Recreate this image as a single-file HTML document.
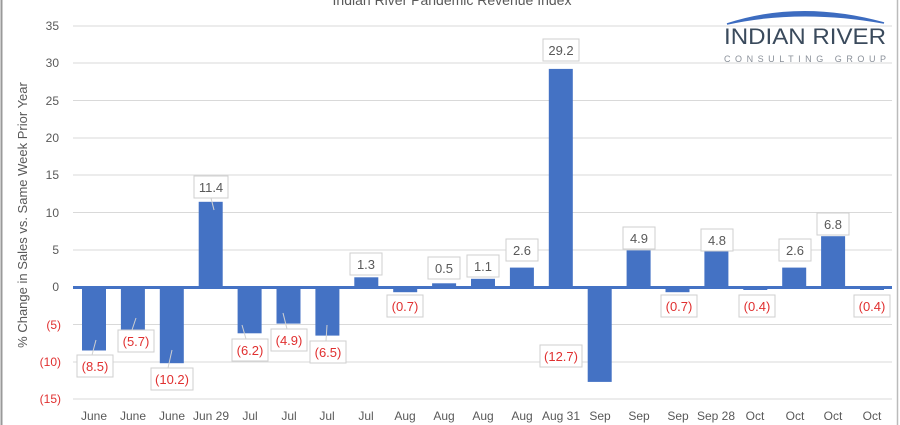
<!DOCTYPE html>
<html><head><meta charset="utf-8"><style>
html,body{margin:0;padding:0;background:#fff;}
svg{display:block;font-family:"Liberation Sans",sans-serif;}
</style></head><body>
<svg width="900" height="425" viewBox="0 0 900 425" xmlns="http://www.w3.org/2000/svg">
<rect x="0" y="0" width="900" height="425" fill="#fff"/>
<line x1="1.5" y1="0" x2="1.5" y2="425" stroke="#999" stroke-width="2"/>
<line x1="897.5" y1="0" x2="897.5" y2="425" stroke="#bbb" stroke-width="1.5"/>
<text x="452" y="5" font-size="14" fill="#595959" text-anchor="middle">Indian River Pandemic Revenue Index</text>
<g stroke="#d9d9d9" stroke-width="1">
<line x1="73" y1="26" x2="892" y2="26"/><line x1="73" y1="63" x2="892" y2="63"/>
<line x1="73" y1="100.5" x2="892" y2="100.5"/><line x1="73" y1="138" x2="892" y2="138"/>
<line x1="73" y1="175" x2="892" y2="175"/><line x1="73" y1="212.5" x2="892" y2="212.5"/>
<line x1="73" y1="250" x2="892" y2="250"/><line x1="73" y1="324.5" x2="892" y2="324.5"/>
<line x1="73" y1="362" x2="892" y2="362"/><line x1="73" y1="399" x2="892" y2="399"/>
</g>
<g font-size="12" text-anchor="end" fill="#595959">
<text x="59" y="30">35</text><text x="59" y="67">30</text><text x="59" y="105">25</text>
<text x="59" y="142">20</text><text x="59" y="179">15</text><text x="59" y="217">10</text>
<text x="59" y="254">5</text><text x="59" y="291">0</text>
</g>
<g font-size="12" text-anchor="end" fill="#e03030">
<text x="61" y="329">(5)</text><text x="61" y="366">(10)</text><text x="61" y="403">(15)</text>
</g>
<text transform="translate(27,215) rotate(-90)" font-size="13" fill="#595959" text-anchor="middle">% Change in Sales vs. Same Week Prior Year</text>
<g fill="#4472c4">
<rect x="82" y="287" width="24" height="63.5"/>
<rect x="120.9" y="287" width="24" height="42.6"/>
<rect x="159.8" y="287" width="24" height="76.2"/>
<rect x="198.7" y="201.8" width="24" height="85.2"/>
<rect x="237.6" y="287" width="24" height="46.3"/>
<rect x="276.5" y="287" width="24" height="36.6"/>
<rect x="315.4" y="287" width="24" height="48.6"/>
<rect x="354.3" y="277.3" width="24" height="9.7"/>
<rect x="393.2" y="287" width="24" height="5.2"/>
<rect x="432.1" y="283.3" width="24" height="3.7"/>
<rect x="471" y="278.8" width="24" height="8.2"/>
<rect x="509.9" y="267.6" width="24" height="19.4"/>
<rect x="548.8" y="68.9" width="24" height="218.1"/>
<rect x="587.7" y="287" width="24" height="94.9"/>
<rect x="626.6" y="250.4" width="24" height="36.6"/>
<rect x="665.5" y="287" width="24" height="5.2"/>
<rect x="704.4" y="251.1" width="24" height="35.9"/>
<rect x="743.3" y="287" width="24" height="3"/>
<rect x="782.2" y="267.6" width="24" height="19.4"/>
<rect x="821.1" y="236.2" width="24" height="50.8"/>
<rect x="860" y="287" width="24" height="3"/>
</g>
<line x1="73" y1="287.5" x2="892" y2="287.5" stroke="#4472c4" stroke-width="3"/>
<g stroke="#d0d0d0" stroke-width="1">
<line x1="92" y1="355" x2="96" y2="340"/><line x1="132" y1="330" x2="136" y2="318"/>
<line x1="168" y1="368" x2="172" y2="350"/><line x1="211" y1="198" x2="214" y2="210"/>
<line x1="246" y1="339" x2="242" y2="325"/><line x1="287" y1="329" x2="283" y2="313"/>
<line x1="326" y1="341" x2="327" y2="325"/>
</g>
<g fill="#fff" stroke="#cfcfcf" stroke-width="1">
<rect x="77" y="355" width="36" height="22"/><rect x="118" y="330" width="36" height="22"/>
<rect x="151" y="368" width="42" height="22"/><rect x="194" y="176" width="34" height="22"/>
<rect x="232" y="339" width="36" height="22"/><rect x="271" y="329" width="36" height="22"/>
<rect x="310" y="341" width="36" height="22"/><rect x="350" y="253" width="32" height="22"/>
<rect x="387" y="295" width="36" height="22"/><rect x="428" y="257" width="32" height="22"/>
<rect x="467" y="255" width="32" height="22"/><rect x="506" y="239" width="32" height="22"/>
<rect x="543" y="39" width="36" height="22"/><rect x="540" y="345" width="42" height="22"/>
<rect x="623" y="227" width="32" height="22"/><rect x="661" y="295" width="36" height="22"/>
<rect x="701" y="229" width="32" height="22"/><rect x="739" y="295" width="36" height="22"/>
<rect x="779" y="239" width="32" height="22"/><rect x="817" y="213" width="32" height="22"/>
<rect x="854" y="295" width="36" height="22"/>
</g>
<g font-size="13" text-anchor="middle" fill="#e03030">
<text x="95" y="371">(8.5)</text><text x="136" y="346">(5.7)</text><text x="172" y="384">(10.2)</text>
<text x="250" y="355">(6.2)</text><text x="289" y="345">(4.9)</text><text x="328" y="357">(6.5)</text>
<text x="405" y="311">(0.7)</text><text x="561" y="361">(12.7)</text><text x="679" y="311">(0.7)</text>
<text x="757" y="311">(0.4)</text><text x="872" y="311">(0.4)</text>
</g>
<g font-size="13" text-anchor="middle" fill="#595959">
<text x="211" y="192">11.4</text><text x="366" y="269">1.3</text><text x="444" y="273">0.5</text>
<text x="483" y="271">1.1</text><text x="522" y="255">2.6</text><text x="561" y="55">29.2</text>
<text x="639" y="243">4.9</text><text x="717" y="245">4.8</text><text x="795" y="255">2.6</text>
<text x="833" y="229">6.8</text>
</g>
<g font-size="12" text-anchor="middle" fill="#595959">
<text x="94" y="420">June</text><text x="133" y="420">June</text><text x="172" y="420">June</text>
<text x="211" y="420">Jun 29</text><text x="250" y="420">Jul</text><text x="289" y="420">Jul</text>
<text x="327" y="420">Jul</text><text x="366" y="420">Jul</text><text x="405" y="420">Aug</text>
<text x="444" y="420">Aug</text><text x="483" y="420">Aug</text><text x="522" y="420">Aug</text>
<text x="561" y="420">Aug 31</text><text x="600" y="420">Sep</text><text x="639" y="420">Sep</text>
<text x="678" y="420">Sep</text><text x="716" y="420">Sep 28</text><text x="755" y="420">Oct</text>
<text x="795" y="420">Oct</text><text x="833" y="420">Oct</text><text x="872" y="420">Oct</text>
</g>
<path d="M727 24 Q800 0 884 23 Q800 8 727 24 Z" fill="#3d6cc0" stroke="#3d6cc0" stroke-width="1.5"/>
<text x="805" y="44" font-size="22" fill="#3a4a5c" text-anchor="middle" textLength="162" lengthAdjust="spacingAndGlyphs">INDIAN RIVER</text>
<text x="805" y="62" font-size="9" fill="#8a9099" text-anchor="middle" textLength="162" lengthAdjust="spacing">CONSULTING GROUP</text>
</svg>
</body></html>
